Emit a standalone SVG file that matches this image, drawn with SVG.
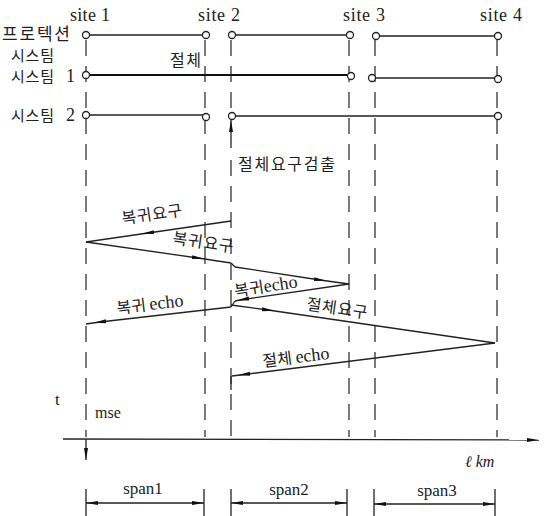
<svg xmlns="http://www.w3.org/2000/svg" width="545" height="516" viewBox="0 0 545 516">
<style>
  text { font-family: "Liberation Serif", "Noto Sans CJK KR", serif; fill: #222; }
  .ko { font-family: "Noto Sans CJK KR", "Liberation Sans", sans-serif; font-size: 16px; }
  .lat { font-size: 18px; }
  .num { font-family: "Liberation Serif", serif; font-size: 18px; }
  .ech { font-family: "Liberation Serif", serif; font-size: 18px; }
  .ln { stroke: #222; stroke-width: 1.3; fill: none; }
  .thick { stroke: #111; stroke-width: 2.2; fill: none; }
  .dash { stroke: #333; stroke-width: 1.3; fill: none; stroke-dasharray: 16 10; }
  .msg { stroke: #222; stroke-width: 1.3; fill: none; marker-mid: url(#ah); }
  .c { fill: #fff; stroke: #222; stroke-width: 1.3; }
</style>
<defs>
  <marker id="ah" viewBox="0 0 12 6" refX="6" refY="3" markerWidth="12" markerHeight="6" orient="auto" markerUnits="userSpaceOnUse">
    <path d="M0,1 L12,3 L0,5 Z" fill="#111"/>
  </marker>
  <marker id="tip" viewBox="0 0 12 6" refX="12" refY="3" markerWidth="12" markerHeight="6" orient="auto" markerUnits="userSpaceOnUse">
    <path d="M0,1 L12,3 L0,5 Z" fill="#111"/>
  </marker>
</defs>
<rect width="545" height="516" fill="#fff"/>

<!-- row labels -->
<g id="labels">
  <text class="lat" x="70" y="21" textLength="40">site 1</text>
  <text class="lat" x="198" y="21" textLength="42">site 2</text>
  <text class="lat" x="343" y="21" textLength="42">site 3</text>
  <text class="lat" x="480" y="21" textLength="42">site 4</text>
  <text class="ko" x="2" y="40" style="font-size:17px" textLength="68">프로텍션</text>
  <text class="ko" x="11" y="61" style="font-size:15px" textLength="43">시스팀</text>
  <text class="ko" x="11" y="82" style="font-size:15px"><tspan textLength="43">시스팀</tspan><tspan class="num" x="66">1</tspan></text>
  <text class="ko" x="11" y="121" style="font-size:15px"><tspan textLength="43">시스팀</tspan><tspan class="num" x="66">2</tspan></text>
  <text class="ko" x="170" y="66" textLength="31">절체</text>
  <text class="ko" x="238" y="170" style="font-size:16px" textLength="97">절체요구검출</text>
  <text x="55" y="405" style="font-size:17px">t</text>
  <text x="95" y="418" style="font-size:16px">mse</text>
  <text x="465" y="467" style="font-size:16px;font-style:italic">ℓ km</text>
</g>

<!-- site vertical lines -->
<g id="site1">
  <path class="dash" d="M86,40 V437"/>
  <path class="ln" d="M86,439 V460" marker-end="url(#tip)"/>
</g>
<g id="site2L"><path class="dash" d="M205,40 V437"/></g>
<g id="site2R">
  <path class="dash" d="M231,40 V112"/>
  <path class="ln" d="M231,148 V120" marker-end="url(#tip)"/>
  <path class="dash" d="M231,160 V437"/>
  <path class="ln" d="M231,376 V390"/>
</g>
<g id="site3L"><path class="dash" d="M349,40 V437"/></g>
<g id="site3R"><path class="dash" d="M375,40 V437"/></g>
<g id="site4"><path class="dash" d="M497,40 V437"/></g>

<!-- system rows -->
<g id="protection">
  <path class="ln" d="M86,35 H206 M232,35 H350 M376,36 H498"/>
  <circle class="c" cx="86" cy="35" r="3.5"/>
  <circle class="c" cx="206" cy="35" r="3.5"/>
  <circle class="c" cx="232" cy="35" r="3.5"/>
  <circle class="c" cx="350" cy="35" r="3.5"/>
  <circle class="c" cx="376" cy="36" r="3.5"/>
  <circle class="c" cx="498" cy="36" r="3.5"/>
</g>
<g id="system1">
  <path class="thick" d="M86,75 H350"/>
  <path class="ln" d="M376,78 H498"/>
  <circle class="c" cx="86" cy="75" r="3.5"/>
  <circle class="c" cx="351" cy="76" r="3.5"/>
  <circle class="c" cx="372" cy="78" r="3.5"/>
  <circle class="c" cx="498" cy="79" r="3.5"/>
</g>
<g id="system2">
  <path class="ln" d="M86,115 H206"/>
  <path class="ln" style="stroke-width:1.7" d="M232,116 H498"/>
  <circle class="c" cx="86" cy="115" r="3.5"/>
  <circle class="c" cx="206" cy="117" r="3.5"/>
  <circle class="c" cx="232" cy="116" r="3.5"/>
  <circle class="c" cx="498" cy="116" r="3.5"/>
</g>

<!-- messages -->
<g id="connectors">
  <path class="msg" d="M231,221 L148,233 L86,242"/>
  <path class="msg" d="M86,242 L198,258 L231,263"/>
  <path class="ln" d="M231,263 L235,267"/>
  <path class="msg" d="M235,267 L320,280 L349,284"/>
  <path class="msg" d="M349,284 L243,299.5 L235,301"/>
  <path class="ln" d="M235,301 L231,307"/>
  <path class="msg" d="M231,307 L100,322 L86,324"/>
  <path class="msg" d="M231,305 L268,310 L495,343"/>
  <path class="msg" d="M495,343 L244,374.5 L232,376"/>
</g>

<g id="message-labels">
  <text class="ko" x="152" y="220" text-anchor="middle" textLength="61" transform="rotate(-8.2 152 215)">복귀요구</text>
  <text class="ko" x="203" y="248" text-anchor="middle" textLength="61" transform="rotate(8.2 203 243)">복귀요구</text>
  <text class="ko" x="266" y="292" text-anchor="middle" transform="rotate(-8.5 266 287)">복귀<tspan class="ech">echo</tspan></text>
  <text class="ko" x="150" y="310" text-anchor="middle" transform="rotate(-6.7 150 305)">복귀 <tspan class="ech">echo</tspan></text>
  <text class="ko" x="337" y="314" text-anchor="middle" textLength="61" transform="rotate(8.2 337 309)">절체요구</text>
  <text class="ko" x="296" y="363" text-anchor="middle" transform="rotate(-7.1 296 358)">절체 <tspan class="ech">echo</tspan></text>
</g>

<!-- axis -->
<g id="axis">
  <path class="ln" d="M63,439 L539,440" marker-end="url(#tip)"/>
</g>

<!-- spans -->
<g id="spans">
  <path class="ln" d="M86,489 V516 M204,489 V516 M231,489 V516 M347,489 V516 M374,489 V516 M495,489 V516"/>
  <path class="ln" d="M145,503 L86,503" marker-end="url(#tip)"/>
  <path class="ln" d="M145,503 L204,503" marker-end="url(#tip)"/>
  <path class="ln" d="M289,503 L231,503" marker-end="url(#tip)"/>
  <path class="ln" d="M289,503 L347,503" marker-end="url(#tip)"/>
  <path class="ln" d="M435,504 L374,504" marker-end="url(#tip)"/>
  <path class="ln" d="M435,504 L495,504" marker-end="url(#tip)"/>
  <text x="143" y="494" text-anchor="middle" style="font-size:17px">span1</text>
  <text x="289" y="495" text-anchor="middle" style="font-size:17px">span2</text>
  <text x="437" y="496" text-anchor="middle" style="font-size:17px">span3</text>
</g>
</svg>
